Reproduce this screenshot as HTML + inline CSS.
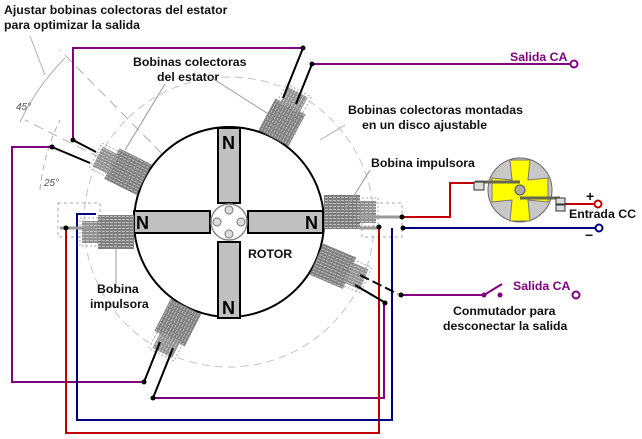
<!DOCTYPE html>
<html><head><meta charset="utf-8"><style>
html,body{margin:0;padding:0;background:#fff}
svg{display:block}
text{font-family:"Liberation Sans",sans-serif;font-weight:bold;font-size:12.3px;fill:#111}
text.n{font-size:18px;fill:#000}
</style></head><body>
<svg width="642" height="439" viewBox="0 0 642 439" xmlns="http://www.w3.org/2000/svg">
<defs>
<pattern id="h" width="4" height="3" patternUnits="userSpaceOnUse"><rect width="4" height="3" fill="#7f7f7f"/><rect width="3" height="1" fill="#bdbdbd"/></pattern>
<g id="coil">
<rect x="95" y="-17" width="36" height="34" fill="url(#h)"/>
<rect x="131" y="-11" width="16" height="22" fill="url(#h)" opacity="0.85"/>
<rect x="129" y="-14" width="20" height="28" fill="none" stroke="#aaa" stroke-dasharray="2,2"/>
</g>
</defs>
<circle cx="229" cy="222" r="145" fill="none" stroke="#c4c4c4" stroke-dasharray="8,5"/>
<g stroke="#b0b0b0" stroke-width="1" fill="none">
<line x1="229" y1="222" x2="60" y2="50" stroke-dasharray="10,6"/>
<line x1="229" y1="222" x2="25" y2="120" stroke-dasharray="10,6"/>
<line x1="30" y1="36" x2="45" y2="75"/>
<path d="M20 122 A230 230 0 0 1 65 58"/>
<path d="M40 190 A200 200 0 0 1 60 120" stroke-dasharray="6,4"/>
<line x1="320" y1="140" x2="345" y2="125"/>
<line x1="116" y1="288" x2="116" y2="232"/>
</g>
<rect x="58" y="203" width="42" height="34" fill="none" stroke="#aaa" stroke-dasharray="3,3"/>
<rect x="362" y="203" width="40" height="34" fill="none" stroke="#aaa" stroke-dasharray="3,3"/>
<text x="16" y="110" style="font-weight:normal;font-style:italic;font-size:10px;fill:#555">45°</text>
<text x="44" y="186" style="font-weight:normal;font-style:italic;font-size:10px;fill:#555">25°</text>
<circle cx="229" cy="222" r="95" fill="#fff" stroke="#000" stroke-width="2"/>
<g fill="#c0c0c0" stroke="#000" stroke-width="2">
<rect x="218" y="128" width="22" height="75"/>
<rect x="218" y="242" width="22" height="76"/>
<rect x="134" y="211" width="76" height="22"/>
<rect x="248" y="211" width="75" height="22"/>
</g>
<circle cx="229" cy="222" r="18" fill="#fff" stroke="#888" stroke-width="1.5"/>
<g fill="#ddd" stroke="#777"><circle cx="229" cy="210" r="4"/><circle cx="229" cy="234" r="4"/><circle cx="217" cy="222" r="4"/><circle cx="241" cy="222" r="4"/></g>
<text class="n" x="222" y="149">N</text><text class="n" x="222" y="314">N</text><text class="n" x="136" y="229">N</text><text class="n" x="305" y="229">N</text>
<text x="248" y="258">ROTOR</text>
<use href="#coil" transform="translate(229,222) rotate(180) translate(0,-10)"/>
<use href="#coil" transform="translate(229,222) translate(0,-10)"/>
<use href="#coil" transform="translate(229,222) rotate(-62)"/>
<use href="#coil" transform="translate(229,222) rotate(-153.5)"/>
<use href="#coil" transform="translate(229,222) rotate(23)"/>
<use href="#coil" transform="translate(229,222) rotate(117)"/>
<g fill="none" stroke-width="2">
<polyline points="73,140 73,48 303,48" stroke="#800080"/>
<polyline points="312,64 572,64" stroke="#800080"/>
<polyline points="52,147 12,147 12,382 144,382" stroke="#800080"/>
<polyline points="153,398 384,398 384,303" stroke="#800080"/>
<polyline points="401,295 482,295 M500,295 574,295" stroke="#800080"/>
<line x1="484" y1="295" x2="502" y2="284" stroke="#800080"/>
<polyline points="66,228 66,433 379,433 379,227" stroke="#c00000"/>
<polyline points="402,217 450,217 450,183 475,183" stroke="#c00000"/>
<polyline points="565,204 595,204" stroke="#c00000"/>
<polyline points="598,228 403,228" stroke="#000080"/>
<polyline points="392,228 392,420 77,420 77,214 96,214" stroke="#000080"/>
<g stroke="#000">
<line x1="303" y1="48" x2="283" y2="98"/><line x1="312" y1="64" x2="296" y2="104"/>
<line x1="73" y1="140" x2="96" y2="152"/><line x1="52" y1="147" x2="90" y2="163"/>
<line x1="144" y1="382" x2="160" y2="342"/><line x1="153" y1="398" x2="173" y2="348"/>
<line x1="360" y1="275" x2="398" y2="294" stroke-dasharray="10,4"/><line x1="355" y1="285" x2="384" y2="302"/>
</g>
<g stroke="#999" stroke-width="3"><line x1="60" y1="228" x2="96" y2="228"/><line x1="360" y1="217" x2="402" y2="217"/><line x1="360" y1="228" x2="380" y2="228"/></g>
</g>
<g fill="#000">
<circle cx="303" cy="48" r="2.5"/><circle cx="312" cy="64" r="2.5"/><circle cx="73" cy="140" r="2.5"/><circle cx="52" cy="147" r="2.5"/>
<circle cx="144" cy="382" r="2.5"/><circle cx="153" cy="398" r="2.5"/><circle cx="385" cy="303" r="2.5"/><circle cx="401" cy="295" r="2.5"/>
<circle cx="66" cy="228" r="2.5"/><circle cx="379" cy="227" r="2.5"/><circle cx="402" cy="217" r="2.5"/><circle cx="403" cy="228" r="2.5"/>
<circle cx="484" cy="295" r="2.5" fill="#800080"/><circle cx="500" cy="295" r="2.5" fill="#800080"/>
</g>
<g fill="#fff" stroke-width="2"><circle cx="574" cy="64" r="3.5" stroke="#800080"/><circle cx="576" cy="295" r="3.5" stroke="#800080"/><circle cx="598" cy="204" r="3.5" stroke="#c00000"/><circle cx="599" cy="228" r="3.5" stroke="#000080"/></g>
<circle cx="520" cy="190" r="32" fill="#c8c8c8" stroke="#666"/>
<path d="M510 160 L530 160 L528 180 L548 178 L548 202 L528 200 L530 221 L510 221 L512 200 L492 202 L492 178 L512 180 Z" fill="#ffff00" stroke="#777"/>
<circle cx="520" cy="190" r="5" fill="#aaa" stroke="#555"/>
<line x1="475" y1="182" x2="520" y2="182" stroke="#665" stroke-width="3"/>
<line x1="520" y1="198" x2="560" y2="198" stroke="#665" stroke-width="3"/>
<rect x="474" y="182" width="10" height="8" fill="#ddd" stroke="#333"/>
<rect x="556" y="198" width="9" height="6" fill="#ddd" stroke="#333"/><rect x="556" y="205" width="9" height="6" fill="#ddd" stroke="#333"/>
<text x="4" y="14">Ajustar bobinas colectoras del estator</text>
<text x="4" y="29">para optimizar la salida</text>
<text x="133" y="66">Bobinas colectoras</text>
<text x="157" y="81">del estator</text>
<g stroke="#999" stroke-width="1"><line x1="165" y1="84" x2="125" y2="150"/><line x1="212" y1="78" x2="270" y2="115"/><line x1="370" y1="170" x2="345" y2="210"/><line x1="116" y1="288" x2="116" y2="235"/></g>
<text x="510" y="61" style="fill:#800080">Salida CA</text>
<text x="348" y="114">Bobinas colectoras montadas</text>
<text x="362" y="129">en un disco ajustable</text>
<text x="371" y="167">Bobina impulsora</text>
<text x="586" y="201" style="font-size:14px">+</text>
<text x="569" y="218">Entrada CC</text>
<text x="585" y="240" style="font-size:14px">−</text>
<text x="97" y="293">Bobina</text>
<text x="90" y="308">impulsora</text>
<text x="513" y="290" style="fill:#800080">Salida CA</text>
<text x="453" y="315">Conmutador para</text>
<text x="443" y="330">desconectar la salida</text>
</svg>
</body></html>
